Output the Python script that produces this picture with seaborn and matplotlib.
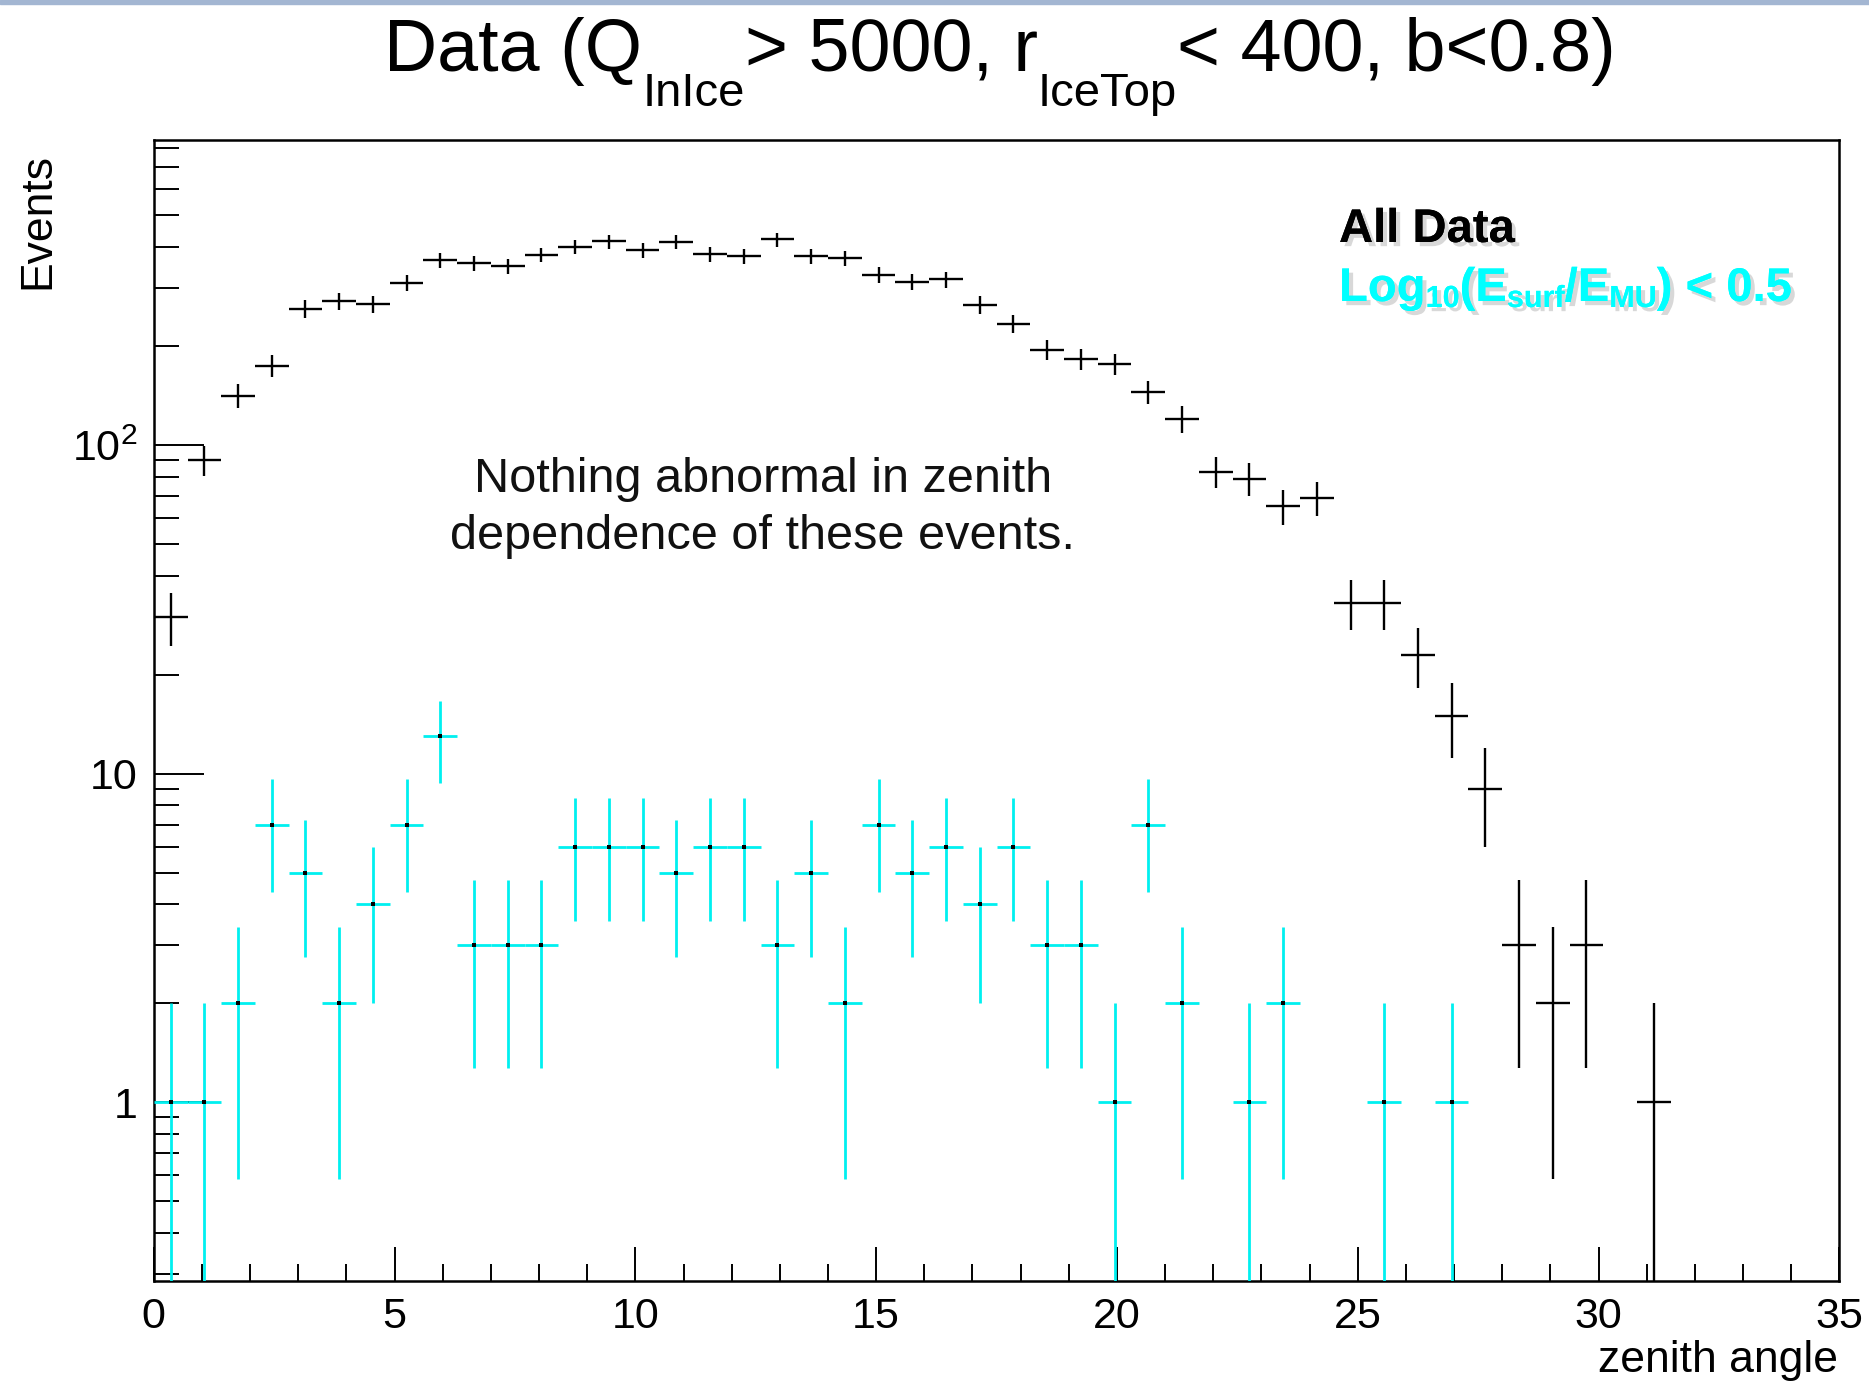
import numpy as np
import pandas as pd
import matplotlib
matplotlib.use("Agg")
import matplotlib.pyplot as plt
import matplotlib.patheffects as pe
from matplotlib.patches import Rectangle
import seaborn as sns

# ---------------- data ----------------
bin_low = 0.0
bin_width = 0.7
n_bins = 50
all_counts = [30, 90, 141, 174, 260, 274, 268, 311, 365, 357,
              350, 379, 401, 416, 391, 414, 380, 375, 422, 375,
              370, 329, 313, 319, 267, 234, 195, 183, 176, 145,
              120, 83, 79, 65, 69, 33, 33, 23, 15, 9,
              3, 2, 3, 0, 1, 0, 0, 0, 0, 0]
cut_counts = [1, 1, 2, 7, 5, 2, 4, 7, 13, 3,
              3, 3, 6, 6, 6, 5, 6, 6, 3, 5,
              2, 7, 5, 6, 4, 6, 3, 3, 1, 7,
              2, 0, 1, 2, 0, 0, 1, 0, 1, 0,
              0, 0, 0, 0, 0, 0, 0, 0, 0, 0]
x_ticks = [0, 5, 10, 15, 20, 25, 30, 35]
y_ticks = [1, 10, 100]
y_ticklabels = ["1", "10", "$10^{2}$"]

title_pieces = [("Data (Q", "main"), ("InIce", "sub"), ("> 5000, r", "main"),
                ("IceTop", "sub"), ("< 400, b<0.8)", "main")]
note_lines = ["Nothing abnormal in zenith", "dependence of these events."]
legend_all = "All Data"
legend_cut_pieces = [("Log", "main"), ("10", "sub"), ("(E", "main"), ("surf", "sub"),
                     ("/E", "main"), ("MU", "sub"), (") < 0.5", "main")]

# ---------------- style ----------------
sns.set_style("white")
plt.rcParams["font.family"] = ["Liberation Sans", "DejaVu Sans"]
plt.rcParams["mathtext.fontset"] = "custom"
plt.rcParams["mathtext.rm"] = "Liberation Sans"
plt.rcParams["mathtext.it"] = "Liberation Sans:italic"
plt.rcParams["mathtext.bf"] = "Liberation Sans:bold"
for k in ["text.color", "axes.labelcolor", "xtick.color", "ytick.color", "axes.edgecolor"]:
    plt.rcParams[k] = "black"

W, H = 1869, 1383
fig = plt.figure(figsize=(W / 100, H / 100), dpi=100)
fig.patch.set_facecolor("white")
ax = fig.add_axes([0.08229, 0.07346, 0.90182, 0.82567])

centers = bin_low + bin_width * (np.arange(n_bins) + 0.5)
df = pd.DataFrame({"zenith": centers, "all": all_counts, "cut": cut_counts})

def draw_hist(col, color, lw):
    d = df[df[col] > 0]
    y = d[col].to_numpy(dtype=float)
    err = np.sqrt(y)
    lo = y - np.maximum(y - err, 1e-3)
    ax.errorbar(d["zenith"], y, xerr=bin_width / 2, yerr=[lo, err], fmt="none",
                ecolor=color, elinewidth=lw, capsize=0, zorder=3)
    return d

draw_hist("all", "black", 1.7)
dcut = draw_hist("cut", "#00f0f0", 2.0)
sns.scatterplot(data=dcut, x="zenith", y="cut", ax=ax, color="black", marker="s",
                s=6, linewidth=0, zorder=4, legend=False)

ax.set_yscale("log")
ax.set_xlim(0, 35)
ax.set_ylim(0.285, 850)
ax.set_xlabel("")
ax.set_ylabel("")
ax.set_xticks(x_ticks)
ax.set_xticklabels([str(t) for t in x_ticks])
ax.set_xticks(np.arange(0, 36, 1), minor=True)
ax.set_yticks(y_ticks)
ax.set_yticklabels(y_ticklabels)
ax.yaxis.set_minor_locator(matplotlib.ticker.LogLocator(base=10, subs=np.arange(2, 10)))
ax.yaxis.set_minor_formatter(matplotlib.ticker.NullFormatter())
ax.tick_params(axis="x", which="major", direction="in", length=24.8, width=1.4,
               labelsize=31, pad=11, top=False, bottom=True, colors="black")
ax.tick_params(axis="x", which="minor", direction="in", length=12.4, width=1.4,
               top=False, bottom=True, colors="black")
ax.tick_params(axis="y", which="major", direction="in", length=36, width=1.4,
               labelsize=31, pad=12, right=False, left=True, colors="black")
ax.tick_params(axis="y", which="minor", direction="in", length=18, width=1.4,
               right=False, left=True, colors="black")
for s in ax.spines.values():
    s.set_linewidth(1.8)
    s.set_color("black")
    s.set_visible(True)

# axis titles
fig.text(38 / W, 1 - 153 / H, "Events", rotation=90, ha="center", va="top", fontsize=32)
fig.text(1838 / W, 1 - 1372 / H, "zenith angle", ha="right", va="baseline", fontsize=32)

# note
ax.text(0.3614, 0.6913, note_lines[0], transform=ax.transAxes, ha="center",
        va="baseline", fontsize=35, color="#111111")
ax.text(0.3614, 0.641, note_lines[1], transform=ax.transAxes, ha="center",
        va="baseline", fontsize=35, color="#111111")

renderer = fig.canvas.get_renderer()


def place_pieces(pieces, sizes, drops, x_start, base, anchor="center", **kw):
    texts, widths = [], []
    for txt, kind in pieces:
        t = fig.text(0, 0, txt, fontsize=sizes[kind], ha="left", va="baseline", **kw)
        widths.append(t.get_window_extent(renderer).width)
        texts.append((t, kind))
    total = sum(widths)
    x0 = x_start - total / 2 if anchor == "center" else x_start
    for (t, kind), w in zip(texts, widths):
        t.set_position((x0 / W, (base + drops[kind]) / H))
        x0 += w


# legend-like labels with shadow
shadow = [pe.withSimplePatchShadow(offset=(3, -3), shadow_rgbFace="gray", alpha=0.3), pe.Normal()]
fig.text(1339 / W, 1 - 242 / H, legend_all, ha="left", va="baseline", fontsize=34,
         fontweight="bold", color="black", path_effects=shadow)
place_pieces(legend_cut_pieces, {"main": 34, "sub": 22}, {"main": 0, "sub": -6},
             1339, H - 301, anchor="left", fontweight="bold", color="#00ffff",
             path_effects=shadow)

# title assembled from pieces (ROOT-style big subscripts)
place_pieces(title_pieces, {"main": 53, "sub": 34}, {"main": 0, "sub": -35},
             1000, H - 71, anchor="center")

# slide border at top
fig.add_artist(Rectangle((0, 1 - 4 / H), 1, 4 / H, transform=fig.transFigure,
                         color="#a3b6d2", zorder=10))

fig.savefig("out.png", dpi=100, facecolor="white")
